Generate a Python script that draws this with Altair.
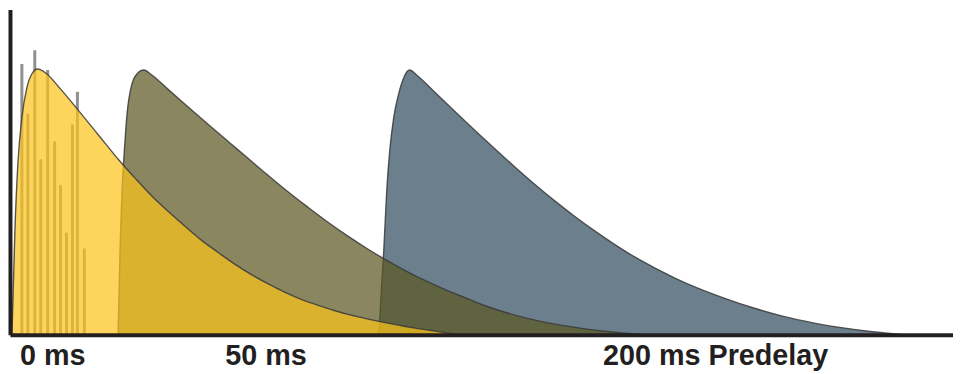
import altair as alt
import pandas as pd

# Amplitude envelopes (time in arbitrary units, amplitude in arbitrary units)
yellow_t = [2, 5, 8, 12, 17, 22, 28, 36, 50, 70, 90, 110, 127, 143, 160, 177, 193, 210, 227, 243,
            260, 277, 293, 310, 327, 343, 360, 377, 393, 410, 430, 453]
yellow_a = [0, 106, 173, 219, 249, 263, 268, 264, 249, 225, 200.5, 176, 157, 140, 124, 109, 95.5, 83, 71, 61,
            51.5, 43, 36, 30, 24.5, 20, 16, 12.5, 9.5, 6.5, 3.5, 0]

olive_t = [109, 111, 113, 115, 118, 123, 128, 135, 143, 160, 180, 200, 220, 240, 260, 280, 300, 320, 340,
           360, 380, 400, 420, 440, 460, 480, 500, 520, 540, 560, 580, 600, 620, 640]
olive_a = [0, 86, 146, 180, 222, 253, 263, 267, 262, 247, 229.5, 212, 195, 178, 161, 144.5, 129, 114, 100,
           87, 75, 64, 54, 45, 37, 29, 22.5, 17, 12.5, 9, 6, 3.5, 1.5, 0]

blue_t = [372, 375, 377, 380, 383, 387, 392, 397, 403, 410, 430, 450, 470, 490, 510, 530, 550, 570, 590,
          610, 630, 650, 670, 690, 720, 750, 780, 810, 840, 870, 900]
blue_a = [0, 53, 86, 146, 186, 219, 243, 259, 267, 262, 243, 224, 205, 186.5, 168.5, 151, 134.5, 119, 104.5,
          91, 78.5, 67.5, 57.5, 48.5, 37, 27, 18.5, 12, 7, 3, 0]

# Early reflections
refl_t = [12, 18, 25, 31, 38, 45, 51, 57, 63, 68, 75]
refl_a = [273, 223, 287, 177, 267, 195, 151, 103, 212, 245, 87]

# Labels
label_text = ["0 ms", "50 ms", "200 ms Predelay"]
label_t = [10, 217, 598]

X_DOMAIN = [0, 951]
Y_DOMAIN = [0, 328]

xs = alt.Scale(domain=X_DOMAIN, nice=False, zero=False)
ys = alt.Scale(domain=Y_DOMAIN, nice=False, zero=False)

AX = alt.Axis(domain=True, ticks=False, labels=False, grid=False, title=None,
              domainWidth=4, domainColor="#231f20", zindex=1)

OUTLINE = "#3a3a3a"


def env(ts, amps, color, opacity):
    df = pd.DataFrame({"t": ts, "a": amps})
    return alt.Chart(df).mark_area(
        interpolate="monotone", color=color, fillOpacity=opacity,
        stroke=OUTLINE, strokeWidth=1.4, strokeOpacity=0.85
    ).encode(
        x=alt.X("t:Q", scale=xs, axis=AX),
        y=alt.Y("a:Q", scale=ys, axis=AX),
    )


blue = env(blue_t, blue_a, "#324F60", 0.72)
olive = env(olive_t, olive_a, "#5C5723", 0.72)
yellow = env(yellow_t, yellow_a, "#FCC419", 0.71)

refl_df = pd.DataFrame({"t": refl_t, "a": refl_a, "z": [0] * len(refl_t)})
refl = alt.Chart(refl_df).mark_rule(color="#8f8f8f", strokeWidth=3).encode(
    x=alt.X("t:Q", scale=xs, axis=AX),
    y=alt.Y("z:Q", scale=ys, axis=AX),
    y2="a:Q",
)

lab_df = pd.DataFrame({"t": label_t, "label": label_text})
labels = alt.Chart(lab_df).mark_text(
    align="left", baseline="alphabetic",
    font="Liberation Sans, Arial, sans-serif",
    fontSize=29, fontWeight="bold", color="#231f20"
).encode(
    x=alt.X("t:Q", scale=xs, axis=AX),
    y=alt.value(358),
    text="label:N",
)

chart = alt.layer(blue, olive, refl, yellow, labels).properties(
    width=951, height=328,
    padding={"left": 2, "top": 0, "right": 0, "bottom": 38},
    autosize="none",
).configure_view(stroke=None)

chart.save("out.html", embed_options={"renderer": "svg", "actions": False})
